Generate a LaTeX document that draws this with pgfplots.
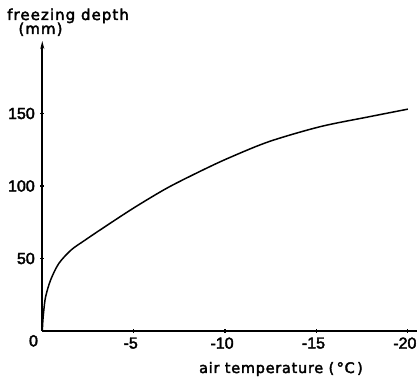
\documentclass[border=0pt]{standalone}
\usepackage{pgfplots}
\pgfplotsset{compat=1.18}
\usepackage{fontspec}
\setmainfont{DejaVu Sans}[LetterSpace=5,FakeBold=2.5]
\newfontfamily\ylabfont{DejaVu Sans}[LetterSpace=7,FakeBold=2.5]
\newfontfamily\tickfont{Liberation Sans}[FakeBold=2.5]
\usetikzlibrary{arrows.meta}
\begin{document}
\begin{tikzpicture}
\useasboundingbox (-42.3pt,-48pt) rectangle (374.7pt,331pt);
\begin{axis}[
  at={(0pt,0pt)}, anchor=south west,
  scale only axis, width=374.7pt, height=290pt,
  x dir=reverse, xmin=-20.5, xmax=0, ymin=0, ymax=200,
  axis x line*=bottom, axis y line*=left,
  x axis line style={-, line width=1.6pt},
  y axis line style={-{Stealth[length=8pt,width=4pt]}, line width=1.6pt},
  xtick={-5,-10,-15,-20}, xticklabels={-5,-10,-15,-20},
  ytick={50,100,150},
  tick style={black, line width=1.2pt},
  major tick length=4pt, tick align=center,
  ticklabel style={font=\tickfont\fontsize{16}{16}\selectfont},
  yticklabel style={xshift=-2pt},
  xticklabel style={yshift=-1pt, xshift=-3pt},
  /pgf/number format/assume math mode=true,
  clip=false,
]
\addplot[black, line width=1.5pt, smooth, tension=0.5] coordinates {
(0,0) (-0.03,7) (-0.08,14) (-0.18,23.5) (-0.45,35) (-0.9,46.5) (-1.58,55.9)
(-2.32,62.5) (-3.2,70) (-4.97,84.6) (-6.8,98.4) (-8.6,109.9) (-10.16,119.1)
(-12.4,130.6) (-15.2,140.9) (-17.9,147.8) (-20,153)
};
\end{axis}
\node[anchor=north, inner sep=0, font=\tickfont\fontsize{16}{16}\selectfont] at (-8.8pt,-4pt) {0};
\node[anchor=base west, inner sep=0, font=\ylabfont\fontsize{15}{15}\selectfont] at (-35.3pt,311pt) {freezing depth};
\node[anchor=base, inner sep=0, font=\ylabfont\fontsize{15}{15}\selectfont] at (-1.8pt,297pt) {(mm)};
\node[anchor=base, inner sep=0, font=\fontsize{14.5}{14.5}\selectfont] at (238.7pt,-42pt) {air temperature (\,°C\,)};
\end{tikzpicture}
\end{document}
